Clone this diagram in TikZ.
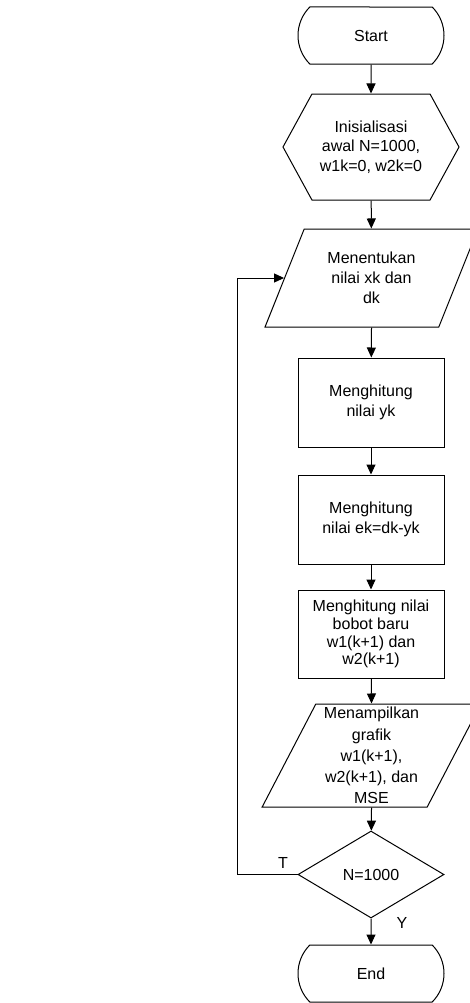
\documentclass[tikz,border=0pt]{standalone}
\usepackage{fontspec}
\setmainfont{Liberation Sans}
\usetikzlibrary{shapes.geometric,shapes.misc,shapes.symbols,arrows.meta}

\tikzset{every picture/.style={line width=0.75pt}}
\tikzset{
	flowtext/.style={font=\fontsize{12}{14.8}\selectfont, align=center, inner sep=0pt},
	terminalbox/.style={flowtext, draw, rounded rectangle, rounded rectangle arc length=90, minimum width=109.5pt, minimum height=42.75pt},
	initbox/.style={flowtext, draw, signal, signal to=west and east, signal pointer angle=122.7, minimum width=132pt, minimum height=79.5pt},
	iobox/.style={flowtext, draw, trapezium, trapezium stretches=true},
	processbox/.style={flowtext, draw, rectangle, minimum width=109.5pt, minimum height=66.75pt},
	decisionbox/.style={flowtext, draw, diamond, minimum width=109.5pt, minimum height=65.25pt},
	flowarrow/.style={-{Triangle[length=7.5pt,width=6.75pt]}},
}

\begin{document}
\begin{tikzpicture}[x=0.75pt,y=0.75pt,yscale=-1,xscale=1]
	\useasboundingbox (0,0) rectangle (470,1003);

	%Shape: Terminal
	\node[terminalbox] (start) at (371,35.5) {Start};
	%Shape: Preparation
	\node[initbox] (init) at (371,147) {Inisialisasi\\awal N=1000,\\w1k=0, w2k=0};
	%Shape: Data
	\node[iobox, trapezium left angle=63.4, trapezium right angle=116.6, minimum width=159.75pt, minimum height=73.5pt] (input) at (371.5,278) {Menentukan\\nilai xk dan\\dk};
	%Shape: Process
	\node[processbox] (hitungyk) at (371,402.5) {Menghitung\\nilai yk};
	%Shape: Process
	\node[processbox] (hitungek) at (371,519.5) {Menghitung\\nilai ek=dk-yk};
	%Shape: Process
	\node[processbox, minimum height=66pt, font=\fontsize{12}{13.3}\selectfont] (bobot) at (371,634) {Menghitung nilai\\bobot baru\\w1(k+1) dan\\w2(k+1)};
	%Shape: Data
	\node[iobox, trapezium left angle=64.6, trapezium right angle=115.4, minimum width=164.25pt, minimum height=77.25pt, font=\fontsize{12}{15.9}\selectfont] (output) at (371.5,755.5) {Menampilkan\\grafik\\w1(k+1),\\w2(k+1), dan\\MSE};
	%Shape: Decision
	\node[decisionbox] (cek) at (371,874.5) {N=1000};
	%Shape: Terminal
	\node[terminalbox] (end) at (371,973.5) {End};
	\coordinate (loopbend) at (237,874.5);

	%Straight Lines
	\draw[flowarrow] (start) -- (init);
	\draw[flowarrow] (init) -- (input);
	\draw[flowarrow] (input.south) -- (hitungyk);
	\draw[flowarrow] (hitungyk) -- (hitungek);
	\draw[flowarrow] (hitungek) -- (bobot);
	\draw[flowarrow] (bobot) -- (output.north);
	\draw[flowarrow] (output.south) -- (cek);
	\draw[flowarrow] (cek) -- (end);
	%Straight Lines
	\draw[flowarrow] (cek.west) -- (loopbend) |- (input);

	% Text Node
	\node[flowtext] (tlabel) at (283,863) {T};
	% Text Node
	\node[flowtext] (ylabel) at (402,923) {Y};

\end{tikzpicture}
\end{document}
